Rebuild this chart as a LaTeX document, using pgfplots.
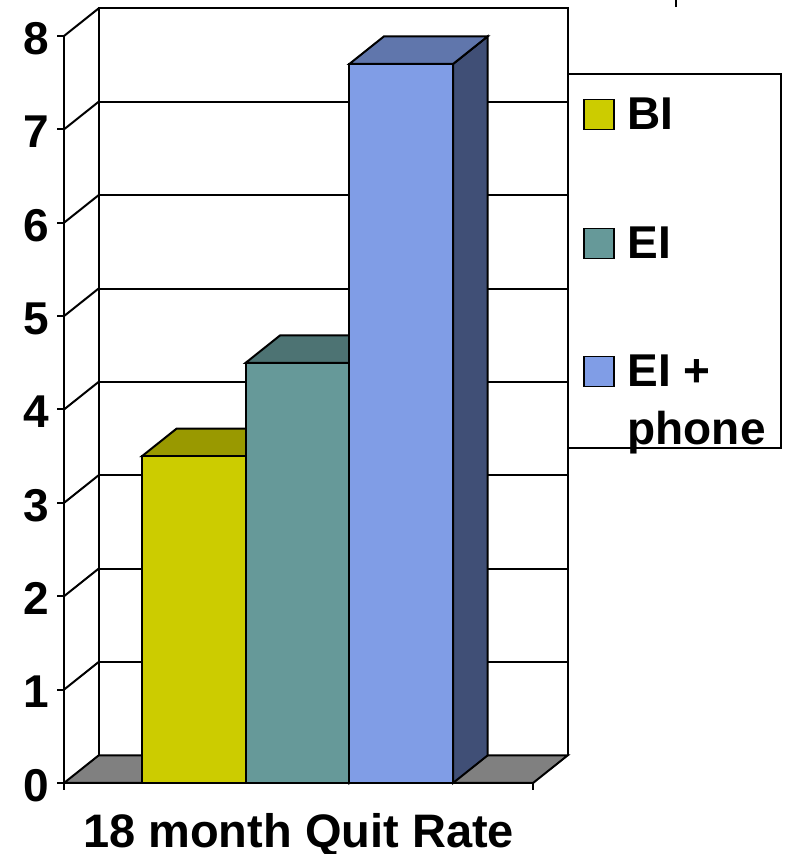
\documentclass[border=0pt]{standalone}
\usepackage{fontspec}
\setmainfont{Liberation Sans}
\usepackage{pgfplots}
\pgfplotsset{compat=1.18}

\definecolor{BIfront}{RGB}{204,204,0}
\definecolor{BItop}{RGB}{153,153,0}
\definecolor{EIfront}{RGB}{102,153,153}
\definecolor{EItop}{RGB}{77,115,115}
\definecolor{EIside}{RGB}{51,77,77}
\definecolor{EPfront}{RGB}{128,157,230}
\definecolor{EPtop}{RGB}{96,118,172}
\definecolor{EPside}{RGB}{64,79,118}
\definecolor{floorgray}{RGB}{128,128,128}

\newcommand\bigbf{\fontsize{23}{27.5}\selectfont\bfseries}

\begin{document}
\begin{tikzpicture}
\begin{axis}[
  scale only axis,
  width=234.5pt, height=373.5pt,
  xmin=64, xmax=533, ymin=0, ymax=8,
  clip=false,
  axis x line*=bottom, axis y line*=left,
  axis line style={line width=1pt},
  every tick/.style={black, line width=1pt},
  tick align=outside,
  major tick length=3.5pt,
  xtick={64,533}, xticklabels={},
  ytick={0,...,8},
  /pgf/number format/assume math mode=true,
  yticklabel style={font=\bigbf, inner sep=0pt, anchor=east, xshift=-4pt, yshift=-1.25pt},
  xlabel={18 month Quit Rate},
  xlabel style={font=\fontsize{23.5}{28}\selectfont\bfseries, inner sep=0pt,
    anchor=base, at={(axis description cs:0.5,-0.0857)}},
  ybar, bar shift=0pt, bar width=103.67,
  legend image code/.code={\draw[#1, draw=black, line width=0.8pt]
      (0pt,0.25pt) rectangle (15pt,15.25pt);},
  legend style={
    at={(1.0725,0.9505)}, anchor=north west,
    draw=black, line width=1pt, fill=white,
    font=\bigbf,
    inner xsep=7.5pt, inner ysep=0pt,
    row sep=0pt,
    cells={anchor=base west},
    nodes={inner sep=0pt},
    /tikz/every odd column/.append style={column sep=6.5pt},
  },
]

% back wall: edges and horizontal grid lines
\addplot[ybar=false, sharp plot, black, line width=1pt, forget plot]
  coordinates {(98.5,0.2945) (98.5,8.2945) (567.5,8.2945) (567.5,0.2945)};
\pgfplotsinvokeforeach{1.2945,2.2945,3.2945,4.2945,5.2945,6.2945,7.2945}{
  \addplot[ybar=false, sharp plot, black, line width=0.9pt, forget plot]
    coordinates {(98.5,#1) (567.5,#1)};
}
% floor
\addplot[ybar=false, sharp plot, fill=floorgray, draw=black, line width=1pt, forget plot]
  coordinates {(64,0) (533,0) (567.5,0.2945) (98.5,0.2945)} --cycle;
% side wall: slanted lines at every tick
\addplot[ybar=false, sharp plot, black, line width=1pt, forget plot]
  coordinates {(64,1) (98.5,1.2945)};
\addplot[ybar=false, sharp plot, black, line width=1pt, forget plot]
  coordinates {(64,2) (98.5,2.2945)};
\addplot[ybar=false, sharp plot, black, line width=1pt, forget plot]
  coordinates {(64,3) (98.5,3.2945)};
\addplot[ybar=false, sharp plot, black, line width=1pt, forget plot]
  coordinates {(64,4) (98.5,4.2945)};
\addplot[ybar=false, sharp plot, black, line width=1pt, forget plot]
  coordinates {(64,5) (98.5,5.2945)};
\addplot[ybar=false, sharp plot, black, line width=1pt, forget plot]
  coordinates {(64,6) (98.5,6.2945)};
\addplot[ybar=false, sharp plot, black, line width=1pt, forget plot]
  coordinates {(64,7) (98.5,7.2945)};
\addplot[ybar=false, sharp plot, black, line width=1pt, forget plot]
  coordinates {(64,8) (98.5,8.2945)};

% BI = 3.5
\addplot[ybar=false, sharp plot, fill=BItop, draw=black, line width=1pt, forget plot]
  coordinates {(142,3.5) (245.7,3.5) (280.2,3.7945) (176.5,3.7945)} --cycle;
\addplot[fill=BIfront, draw=black, line width=1pt] coordinates {(193.83,3.5)};
\addlegendentry{\rule{0pt}{28pt}BI}

% EI = 4.5
\addplot[ybar=false, sharp plot, fill=EIside, draw=black, line width=1pt, forget plot]
  coordinates {(349.3,0) (383.8,0.2945) (383.8,4.7945) (349.3,4.5)} --cycle;
\addplot[ybar=false, sharp plot, fill=EItop, draw=black, line width=1pt, forget plot]
  coordinates {(245.7,4.5) (349.3,4.5) (383.8,4.7945) (280.2,4.7945)} --cycle;
\addplot[fill=EIfront, draw=black, line width=1pt] coordinates {(297.5,4.5)};
\addlegendentry{\rule{0pt}{63pt}EI}

% EI + phone = 7.7
\addplot[ybar=false, sharp plot, fill=EPside, draw=black, line width=1pt, forget plot]
  coordinates {(453,0) (487.5,0.2945) (487.5,7.9945) (453,7.7)} --cycle;
\addplot[ybar=false, sharp plot, fill=EPtop, draw=black, line width=1pt, forget plot]
  coordinates {(349.3,7.7) (453,7.7) (487.5,7.9945) (383.8,7.9945)} --cycle;
\addplot[fill=EPfront, draw=black, line width=1pt] coordinates {(401.17,7.7)};
\addlegendentry{\rule{0pt}{62.5pt}EI +}
\addlegendimage{empty legend}
\addlegendentry{\rule[-7.75pt]{0pt}{35.25pt}phone}

% short mark at the upper right edge
\addplot[ybar=false, sharp plot, black, line width=1pt, forget plot]
  coordinates {(675.5,8.31) (675.5,8.3855)};

% corners of the page
\coordinate (pageNW) at (axis cs:0,8.3855);
\coordinate (pageSE) at (axis cs:786,-0.7604);
\end{axis}
\pgfresetboundingbox
\path[use as bounding box] (pageNW) rectangle (pageSE);
\end{tikzpicture}
\end{document}
